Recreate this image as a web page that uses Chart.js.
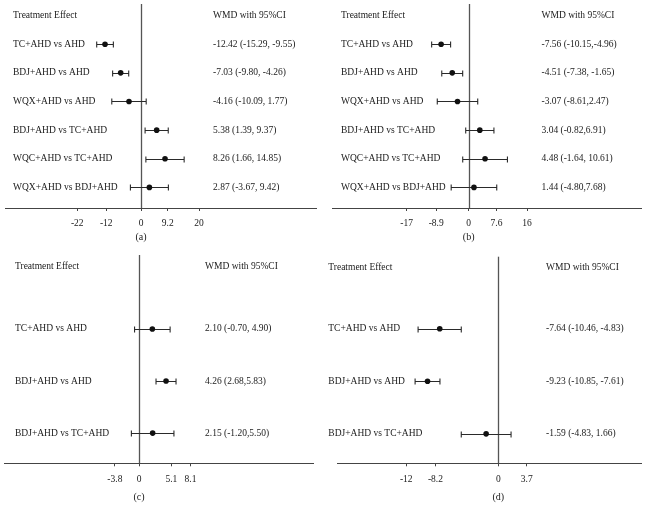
<!DOCTYPE html>
<html>
<head>
<meta charset="utf-8">
<script src="https://cdn.jsdelivr.net/npm/chart.js@4.4.1/dist/chart.umd.min.js"></script>
<style>
  html, body { margin: 0; padding: 0; background: #fff; }
  #wrap { position: relative; width: 650px; height: 505px; }
  canvas { position: absolute; }
</style>
</head>
<body>
<div id="wrap">
  <canvas id="pa" width="325" height="250" style="left:0;top:0"></canvas>
  <canvas id="pb" width="325" height="250" style="left:325px;top:0"></canvas>
  <canvas id="pc" width="325" height="255" style="left:0;top:250px"></canvas>
  <canvas id="pd" width="325" height="255" style="left:325px;top:250px"></canvas>
</div>
<script>
// panel (a)
var aLabels = ['TC+AHD vs AHD', 'BDJ+AHD vs AHD', 'WQX+AHD vs AHD', 'BDJ+AHD vs TC+AHD', 'WQC+AHD vs TC+AHD', 'WQX+AHD vs BDJ+AHD'];
var aMean = [-12.42, -7.03, -4.16, 5.38, 8.26, 2.87];
var aLow = [-15.29, -9.80, -10.09, 1.39, 1.66, -3.67];
var aHigh = [-9.55, -4.26, 1.77, 9.37, 14.85, 9.42];
var aText = ['-12.42 (-15.29, -9.55)', '-7.03 (-9.80, -4.26)', '-4.16 (-10.09, 1.77)', '5.38 (1.39, 9.37)', '8.26 (1.66, 14.85)', '2.87 (-3.67, 9.42)'];
var aTicks = [-22, -12, 0, 9.2, 20];

// panel (b)
var bLabels = ['TC+AHD vs AHD', 'BDJ+AHD vs AHD', 'WQX+AHD vs AHD', 'BDJ+AHD vs TC+AHD', 'WQC+AHD vs TC+AHD', 'WQX+AHD vs BDJ+AHD'];
var bMean = [-7.56, -4.51, -3.07, 3.04, 4.48, 1.44];
var bLow = [-10.15, -7.38, -8.61, -0.82, -1.64, -4.80];
var bHigh = [-4.96, -1.65, 2.47, 6.91, 10.61, 7.68];
var bText = ['-7.56 (-10.15,-4.96)', '-4.51 (-7.38, -1.65)', '-3.07 (-8.61,2.47)', '3.04 (-0.82,6.91)', '4.48 (-1.64, 10.61)', '1.44 (-4.80,7.68)'];
var bTicks = [-17, -8.9, 0, 7.6, 16];

// panel (c)
var cLabels = ['TC+AHD vs AHD', 'BDJ+AHD vs AHD', 'BDJ+AHD vs TC+AHD'];
var cMean = [2.10, 4.26, 2.15];
var cLow = [-0.70, 2.68, -1.20];
var cHigh = [4.90, 5.83, 5.50];
var cText = ['2.10 (-0.70, 4.90)', '4.26 (2.68,5.83)', '2.15 (-1.20,5.50)'];
var cTicks = [-3.8, 0, 5.1, 8.1];

// panel (d)
var dLabels = ['TC+AHD vs AHD', 'BDJ+AHD vs AHD', 'BDJ+AHD vs TC+AHD'];
var dMean = [-7.64, -9.23, -1.59];
var dLow = [-10.46, -10.85, -4.83];
var dHigh = [-4.83, -7.61, 1.66];
var dText = ['-7.64 (-10.46, -4.83)', '-9.23 (-10.85, -7.61)', '-1.59 (-4.83, 1.66)'];
var dTicks = [-12, -8.2, 0, 3.7];

var SERIF = '"Liberation Serif", "DejaVu Serif", serif';
var INK = '#1a1a1a';

var forestPlugin = {
    id: 'forest',
    beforeDatasetsDraw: function(chart) {
        var o = chart.options.plugins.forest;
        var ctx = chart.ctx, xs = chart.scales.x, ys = chart.scales.y, ca = chart.chartArea;
        ctx.save();
        // zero line
        var x0 = Math.round(xs.getPixelForValue(0)) + 0.5;
        ctx.strokeStyle = '#555';
        ctx.lineWidth = 1.3;
        ctx.beginPath();
        ctx.moveTo(x0, ca.top);
        ctx.lineTo(x0, ca.bottom);
        ctx.stroke();
        // whiskers
        ctx.strokeStyle = '#2a2a2a';
        ctx.lineWidth = 1.1;
        for (var i = 0; i < o.low.length; i++) {
            var y = Math.round(ys.getPixelForValue(i)) + 0.5;
            var x1 = xs.getPixelForValue(o.low[i]);
            var x2 = xs.getPixelForValue(o.high[i]);
            ctx.beginPath();
            ctx.moveTo(x1, y); ctx.lineTo(x2, y);
            ctx.moveTo(x1, y - 3); ctx.lineTo(x1, y + 3);
            ctx.moveTo(x2, y - 3); ctx.lineTo(x2, y + 3);
            ctx.stroke();
        }
        ctx.restore();
    },
    afterDraw: function(chart) {
        var o = chart.options.plugins.forest;
        var ctx = chart.ctx, xs = chart.scales.x, ys = chart.scales.y, ca = chart.chartArea;
        ctx.save();
        ctx.fillStyle = INK;
        ctx.font = '9.5px ' + SERIF;
        ctx.textBaseline = 'middle';
        ctx.textAlign = 'left';
        ctx.fillText('Treatment Effect', o.leftX, ca.top + o.headY);
        ctx.fillText('WMD with 95%CI', o.rightX, ca.top + o.headY);
        for (var i = 0; i < o.labels.length; i++) {
            var y = ys.getPixelForValue(i);
            ctx.fillText(o.labels[i], o.leftX, y);
            ctx.fillText(o.text[i], o.rightX, y);
        }
        ctx.font = '10px ' + SERIF;
        ctx.textAlign = 'center';
        ctx.fillText(o.caption, xs.getPixelForValue(0), o.captionY);
        ctx.restore();
    }
};

function forest(id, p) {
    new Chart(document.getElementById(id), {
        type: 'scatter',
        plugins: [forestPlugin],
        data: {
            datasets: [{
                data: p.mean.map(function(m, i) { return {x: m, y: i}; }),
                pointRadius: 2.8,
                pointBackgroundColor: '#111',
                pointBorderWidth: 0
            }]
        },
        options: {
            responsive: false,
            animation: false,
            events: [],
            layout: { padding: { left: p.padL, right: p.padR, top: p.padT, bottom: 0 } },
            scales: {
                x: {
                    type: 'linear',
                    min: p.xmin,
                    max: p.xmax,
                    afterBuildTicks: function(scale) {
                        scale.ticks = p.ticks.map(function(v) { return {value: v}; });
                    },
                    afterFit: function(scale) { scale.height = p.axisH; },
                    grid: { display: true, drawOnChartArea: false, drawTicks: true, tickLength: 3, color: '#444' },
                    border: { display: true, color: '#444', width: 1 },
                    ticks: {
                        padding: 7,
                        color: INK,
                        font: { family: SERIF, size: 9.5 },
                        maxRotation: 0,
                        autoSkip: false,
                        callback: function(v) { return String(v); }
                    }
                },
                y: {
                    type: 'linear',
                    display: false,
                    reverse: true,
                    min: p.ymin,
                    max: p.ymax
                }
            },
            plugins: {
                legend: { display: false },
                tooltip: { enabled: false },
                forest: {
                    labels: p.labels, text: p.text, low: p.low, high: p.high,
                    leftX: p.leftX, rightX: p.rightX, headY: p.headY,
                    caption: p.caption, captionY: p.captionY
                }
            }
        }
    });
}

forest('pa', {
    labels: aLabels, mean: aMean, low: aLow, high: aHigh, text: aText, ticks: aTicks,
    xmin: -46.9, xmax: 60.3, ymin: -1.404, ymax: 5.719,
    padL: 5, padR: 9, padT: 0, axisH: 42,
    leftX: 13, rightX: 213, headY: 11, caption: '(a)', captionY: 237.5
});
forest('pb', {
    labels: bLabels, mean: bMean, low: bLow, high: bHigh, text: bText, ticks: bTicks,
    xmin: -37.45, xmax: 47.2, ymin: -1.404, ymax: 5.719,
    padL: 7, padR: 9, padT: 0, axisH: 42,
    leftX: 16, rightX: 216.5, headY: 11, caption: '(b)', captionY: 237
});
forest('pc', {
    labels: cLabels, mean: cMean, low: cLow, high: cHigh, text: cText, ticks: cTicks,
    xmin: -21.26, xmax: 27.4, ymin: -1.42, ymax: 2.58,
    padL: 0, padR: 12, padT: 5, axisH: 41.7,
    leftX: 15, rightX: 205, headY: 11, caption: '(c)', captionY: 247.7
});
forest('pd', {
    labels: dLabels, mean: dMean, low: dLow, high: dHigh, text: dText, ticks: dTicks,
    xmin: -20.94, xmax: 18.6, ymin: -1.37, ymax: 2.56,
    padL: 12.7, padR: 9, padT: 6.7, axisH: 41.7,
    leftX: 3.3, rightX: 221, headY: 11, caption: '(d)', captionY: 247.7
});
</script>
</body>
</html>
